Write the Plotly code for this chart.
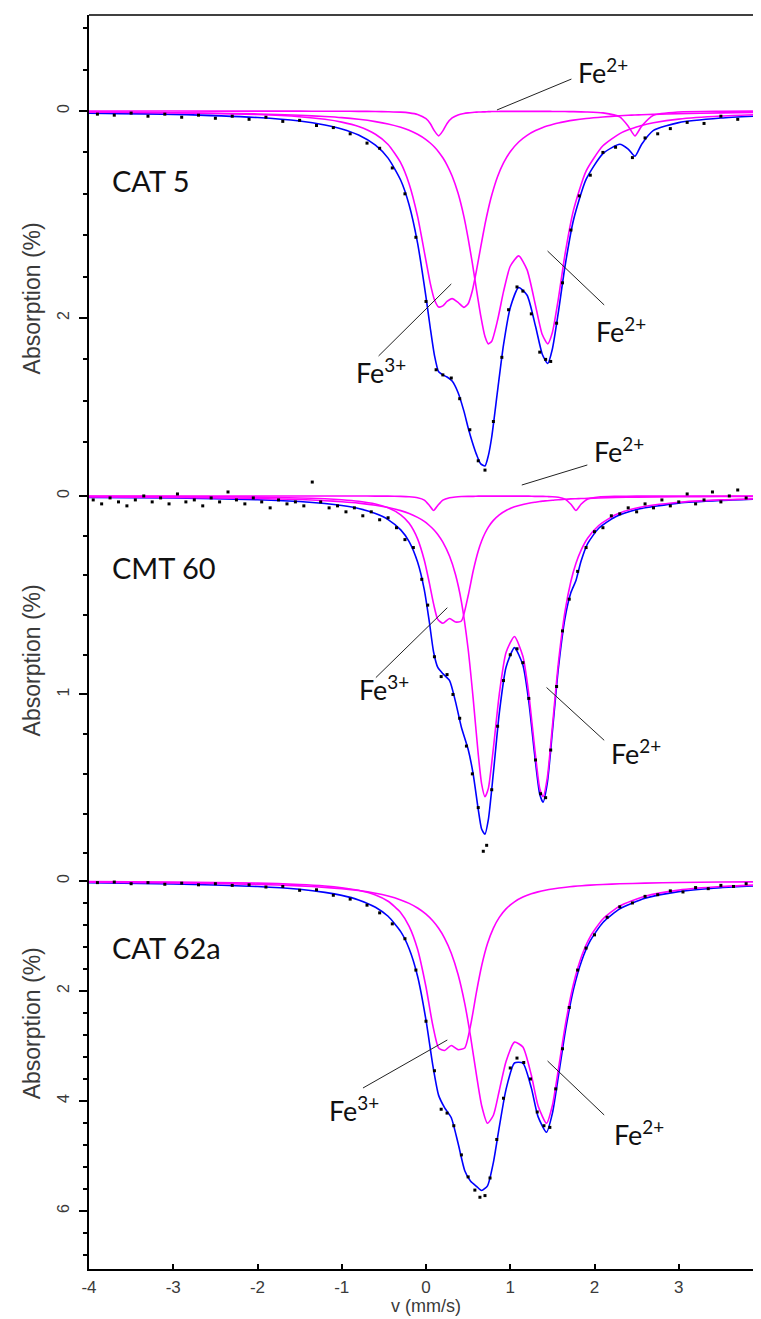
import plotly.graph_objects as go

# ---------------- CAT 5 (top panel) ----------------
V_TOP = [-4.0, -3.0, -2.0, -1.5, -1.2, -1.0, -0.8, -0.6, -0.45, -0.3,
         -0.2, -0.1, 0.0, 0.05, 0.1, 0.15, 0.2, 0.25, 0.31, 0.38,
         0.45, 0.5, 0.55, 0.6, 0.65, 0.7, 0.74, 0.78, 0.85, 0.92,
         1.0, 1.1, 1.2, 1.3, 1.38, 1.445, 1.5, 1.57, 1.65, 1.75,
         1.9, 2.1, 2.3, 2.4, 2.48, 2.56, 2.7, 3.0, 3.5, 4.0]
TOP_FE2_MAIN = [0.010, 0.016, 0.028, 0.041, 0.053, 0.064, 0.080, 0.102, 0.125, 0.157,
                0.186, 0.225, 0.276, 0.309, 0.348, 0.395, 0.452, 0.522, 0.628, 0.793,
                1.020, 1.230, 1.470, 1.730, 1.980, 2.180, 2.250, 2.225, 2.020, 1.745,
                1.500, 1.400, 1.535, 1.880, 2.160, 2.250, 2.140, 1.820, 1.385, 0.960,
                0.580, 0.336, 0.218, 0.181, 0.159, 0.139, 0.114, 0.078, 0.048, 0.032]
TOP_FE3 = [0.010, 0.016, 0.034, 0.055, 0.080, 0.107, 0.149, 0.224, 0.323, 0.501,
           0.704, 1.018, 1.448, 1.663, 1.823, 1.893, 1.883, 1.840, 1.813, 1.849,
           1.897, 1.862, 1.736, 1.538, 1.312, 1.096, 0.944, 0.814, 0.633, 0.501,
           0.393, 0.299, 0.235, 0.189, 0.161, 0.143, 0.130, 0.115, 0.102, 0.088,
           0.072, 0.057, 0.046, 0.041, 0.038, 0.036, 0.032, 0.025, 0.018, 0.013]
TOP_FE2_MINOR = [0.000, 0.000, 0.001, 0.001, 0.002, 0.002, 0.003, 0.004, 0.007, 0.011,
                 0.018, 0.033, 0.074, 0.120, 0.192, 0.240, 0.192, 0.120, 0.067, 0.038,
                 0.024, 0.018, 0.014, 0.011, 0.009, 0.008, 0.006, 0.005, 0.004, 0.003,
                 0.003, 0.003, 0.003, 0.003, 0.003, 0.003, 0.004, 0.004, 0.005, 0.006,
                 0.009, 0.018, 0.057, 0.146, 0.240, 0.146, 0.041, 0.009, 0.002, 0.001]
TOP_FIT = [0.020, 0.032, 0.063, 0.097, 0.135, 0.173, 0.232, 0.330, 0.455, 0.669,
           0.908, 1.276, 1.798, 2.092, 2.360, 2.520, 2.550, 2.570, 2.610, 2.720,
           2.900, 3.060, 3.200, 3.320, 3.410, 3.430, 3.330, 3.150, 2.700, 2.260,
           1.900, 1.705, 1.780, 2.080, 2.350, 2.440, 2.300, 1.950, 1.500, 1.055,
           0.661, 0.411, 0.321, 0.368, 0.437, 0.321, 0.187, 0.112, 0.068, 0.046]
TOP_OBS_V = [-3.9, -3.7, -3.5, -3.3, -3.1, -2.9, -2.7, -2.5, -2.3, -2.1,
             -1.9, -1.7, -1.5, -1.3, -1.1, -0.9, -0.7, -0.55, -0.4, -0.25, -0.12,
             0.0, 0.12, 0.2, 0.3, 0.4, 0.52, 0.62, 0.7, 0.8, 0.9,
             0.98, 1.08, 1.15, 1.25, 1.35, 1.42, 1.48, 1.55, 1.62, 1.72,
             1.82, 1.95, 2.1, 2.25, 2.45, 2.6, 2.75, 2.9,
             3.1, 3.3, 3.5, 3.7, 3.9]
TOP_OBS = [0.03, 0.04, 0.02, 0.05, 0.03, 0.06, 0.04, 0.07, 0.05, 0.08,
           0.06, 0.10, 0.09, 0.14, 0.16, 0.22, 0.31, 0.36, 0.55, 0.80, 1.22,
           1.84, 2.50, 2.55, 2.58, 2.78, 3.08, 3.38, 3.47, 3.00, 2.38,
           1.92, 1.70, 1.74, 1.96, 2.33, 2.40, 2.42, 2.05, 1.66, 1.15,
           0.82, 0.62, 0.40, 0.35, 0.45, 0.26, 0.22, 0.17,
           0.11, 0.12, 0.05, 0.08, 0.04]

# ---------------- CMT 60 (middle panel) ----------------
V_MID = [-4.0, -3.0, -2.0, -1.5, -1.2, -1.0, -0.8, -0.6, -0.45, -0.3,
         -0.2, -0.1, -0.02, 0.04, 0.09, 0.14, 0.2, 0.28, 0.35, 0.42,
         0.5, 0.56, 0.62, 0.66, 0.7, 0.74, 0.8, 0.87, 0.95, 1.05,
         1.15, 1.22, 1.29, 1.35, 1.39, 1.44, 1.5, 1.57, 1.65, 1.72,
         1.78, 1.84, 1.92, 2.05, 2.25, 2.5, 3.0, 3.5, 4.0]
MID_FE2_MAIN = [0.005, 0.007, 0.013, 0.018, 0.024, 0.029, 0.036, 0.047, 0.058, 0.074,
                0.088, 0.108, 0.128, 0.149, 0.169, 0.194, 0.233, 0.304, 0.396, 0.532,
                0.771, 1.021, 1.301, 1.450, 1.515, 1.473, 1.270, 0.998, 0.789, 0.708,
                0.808, 0.998, 1.270, 1.473, 1.515, 1.419, 1.162, 0.847, 0.582, 0.430,
                0.339, 0.274, 0.212, 0.149, 0.095, 0.061, 0.032, 0.020, 0.013]
MID_FE3 = [0.002, 0.003, 0.006, 0.010, 0.014, 0.019, 0.027, 0.041, 0.060, 0.095,
           0.138, 0.216, 0.324, 0.439, 0.544, 0.622, 0.641, 0.617, 0.635, 0.630,
           0.503, 0.378, 0.277, 0.227, 0.188, 0.157, 0.123, 0.095, 0.073, 0.055,
           0.043, 0.037, 0.032, 0.028, 0.026, 0.024, 0.022, 0.019, 0.017, 0.015,
           0.014, 0.013, 0.012, 0.010, 0.008, 0.006, 0.004, 0.003, 0.002]
MID_FE2_MINOR = [0.000, 0.000, 0.000, 0.000, 0.000, 0.000, 0.000, 0.001, 0.001, 0.002,
                 0.004, 0.009, 0.021, 0.048, 0.073, 0.048, 0.021, 0.009, 0.005, 0.003,
                 0.002, 0.002, 0.001, 0.001, 0.001, 0.001, 0.001, 0.001, 0.001, 0.001,
                 0.001, 0.001, 0.002, 0.002, 0.002, 0.003, 0.004, 0.007, 0.016, 0.042,
                 0.073, 0.042, 0.015, 0.005, 0.002, 0.001, 0.000, 0.000, 0.000]
MID_FIT = [0.007, 0.010, 0.019, 0.028, 0.038, 0.048, 0.063, 0.089, 0.119, 0.171,
           0.230, 0.333, 0.473, 0.636, 0.786, 0.864, 0.895, 0.930, 1.036, 1.165,
           1.276, 1.401, 1.579, 1.678, 1.704, 1.631, 1.394, 1.094, 0.863, 0.764,
           0.852, 1.036, 1.304, 1.503, 1.543, 1.446, 1.188, 0.873, 0.615, 0.487,
           0.426, 0.329, 0.239, 0.163, 0.105, 0.068, 0.036, 0.023, 0.015]
MID_OBS_V = [-3.95, -3.85, -3.75, -3.65, -3.55, -3.45, -3.35, -3.25, -3.15, -3.05,
             -2.95, -2.85, -2.75, -2.65, -2.55, -2.45, -2.35, -2.25, -2.15, -2.05,
             -1.95, -1.85, -1.75, -1.65, -1.55, -1.45, -1.35, -1.25, -1.15, -1.05,
             -0.95, -0.85, -0.75, -0.65, -0.55, -0.45, -0.35, -0.25, -0.15, -0.05,
             0.02, 0.1, 0.18, 0.25, 0.32, 0.4, 0.48, 0.55, 0.62, 0.68,
             0.72, 0.78, 0.85, 0.92, 1.0, 1.08, 1.15, 1.22, 1.3, 1.36,
             1.42, 1.48, 1.55, 1.62, 1.7, 1.8, 1.9, 2.0, 2.1, 2.2,
             2.3, 2.4, 2.5, 2.6, 2.7, 2.8, 2.9, 3.0, 3.1, 3.2,
             3.3, 3.4, 3.5, 3.6, 3.7, 3.8, 3.9]
MID_OBS = [0.02, 0.04, 0.01, 0.03, 0.05, 0.02, 0.00, 0.03, 0.01, 0.04,
           -0.01, 0.03, 0.02, 0.05, 0.01, 0.03, -0.02, 0.02, 0.04, 0.01,
           0.03, 0.06, 0.02, 0.04, 0.03, 0.05, -0.07, 0.03, 0.06, 0.05,
           0.08, 0.06, 0.10, 0.08, 0.12, 0.11, 0.16, 0.22, 0.26, 0.42,
           0.55, 0.81, 0.91, 0.90, 1.00, 1.12, 1.26, 1.40, 1.57, 1.79,
           1.76, 1.48, 1.16, 0.93, 0.80, 0.77, 0.84, 1.02, 1.33, 1.50,
           1.52, 1.28, 0.96, 0.68, 0.52, 0.38, 0.26, 0.18, 0.16, 0.10,
           0.09, 0.06, 0.08, 0.04, 0.06, 0.02, 0.05, 0.03, -0.01, 0.04,
           0.02, -0.02, 0.03, 0.00, -0.03, 0.01, -0.02]

# ---------------- CAT 62a (bottom panel) ----------------
V_BOT = [-4.0, -3.0, -2.0, -1.5, -1.2, -1.0, -0.8, -0.6, -0.45, -0.3,
         -0.2, -0.1, 0.0, 0.08, 0.15, 0.22, 0.3, 0.38, 0.46, 0.53,
         0.6, 0.66, 0.73, 0.8, 0.87, 0.95, 1.05, 1.15, 1.25, 1.33,
         1.43, 1.5, 1.58, 1.66, 1.75, 1.85, 1.95, 2.1, 2.3, 2.6,
         3.0, 3.5, 4.0]
BOT_FE2_MAIN = [0.022, 0.035, 0.062, 0.089, 0.116, 0.140, 0.174, 0.222, 0.273, 0.344,
                0.407, 0.491, 0.603, 0.724, 0.861, 1.039, 1.313, 1.697, 2.230, 2.840,
                3.539, 4.081, 4.405, 4.260, 3.809, 3.281, 2.930, 3.019, 3.528, 4.086,
                4.405, 4.081, 3.337, 2.563, 1.877, 1.355, 1.010, 0.691, 0.455, 0.277,
                0.166, 0.102, 0.069]
BOT_FE3 = [0.011, 0.019, 0.039, 0.063, 0.091, 0.122, 0.170, 0.255, 0.369, 0.577,
           0.824, 1.241, 1.928, 2.619, 3.037, 3.081, 2.991, 3.067, 3.037, 2.619,
           2.012, 1.546, 1.138, 0.856, 0.661, 0.507, 0.379, 0.293, 0.234, 0.198,
           0.164, 0.145, 0.127, 0.113, 0.099, 0.086, 0.076, 0.064, 0.052, 0.039,
           0.028, 0.020, 0.015]
BOT_FIT = [0.033, 0.054, 0.101, 0.152, 0.207, 0.262, 0.344, 0.477, 0.642, 0.921,
           1.231, 1.732, 2.531, 3.343, 3.898, 4.120, 4.304, 4.764, 5.267, 5.459,
           5.551, 5.627, 5.543, 5.116, 4.470, 3.788, 3.309, 3.312, 3.762, 4.284,
           4.569, 4.226, 3.464, 2.676, 1.976, 1.441, 1.086, 0.755, 0.507, 0.316,
           0.194, 0.122, 0.084]
BOT_OBS_V = [-3.9, -3.7, -3.5, -3.3, -3.1, -2.9, -2.7, -2.5, -2.3, -2.1,
             -1.9, -1.7, -1.5, -1.3, -1.1, -0.9, -0.7, -0.55, -0.4, -0.25, -0.12,
             0.0, 0.1, 0.18, 0.25, 0.33, 0.42, 0.5, 0.58, 0.64, 0.7,
             0.76, 0.84, 0.92, 1.0, 1.08, 1.16, 1.24, 1.32, 1.4, 1.47,
             1.54, 1.62, 1.7, 1.8, 1.9, 2.0, 2.15, 2.3, 2.45, 2.6,
             2.75, 2.9, 3.05, 3.2, 3.35, 3.5, 3.65, 3.8, 3.95]
BOT_OBS = [0.03, 0.02, 0.05, 0.03, 0.06, 0.04, 0.07, 0.05, 0.08, 0.07,
           0.11, 0.10, 0.17, 0.16, 0.26, 0.33, 0.44, 0.58, 0.78, 1.05, 1.62,
           2.55, 3.45, 4.15, 4.22, 4.45, 4.98, 5.38, 5.62, 5.75, 5.72,
           5.40, 4.70, 3.95, 3.40, 3.22, 3.30, 3.60, 4.20, 4.45, 4.48,
           3.78, 3.05, 2.30, 1.62, 1.22, 0.98, 0.66, 0.47, 0.40, 0.28,
           0.25, 0.18, 0.20, 0.12, 0.14, 0.08, 0.10, 0.05, 0.06]

# ---------------- tick labels / texts ----------------
X_TICKS = [-4, -3, -2, -1, 0, 1, 2, 3, 4]
TOP_TICKS = [0, 2]
MID_TICKS = [0, 1]
BOT_TICKS = [0, 2, 4, 6]
PANEL_NAMES = ["CAT 5", "CMT 60", "CAT 62a"]
Y_TITLE = "Absorption (%)"
X_TITLE = "v (mm/s)"
FE2 = "Fe<sup>2+</sup>"
FE3 = "Fe<sup>3+</sup>"

BLUE = "#0000ff"
MAGENTA = "#ff00ff"
SANS = "Liberation Sans, Arial, sans-serif"
TICKFONT = dict(family=SANS, size=16, color="#3a3a3a")
LABELFONT = dict(family="Lato, Noto Sans, sans-serif", size=29, color="#111111")
FEFONT = dict(family="Lato, Noto Sans, sans-serif", size=27, color="#111111")

# panel geometry (paper domains and reversed ranges)
DOMS = {"y": [0.6308, 1.0], "y2": [0.3214, 0.6308], "y3": [0.0, 0.3214]}
RNGS = {"y": [3.546, -0.928], "y2": [1.864, -0.0905], "y3": [7.0545, -0.2727]}
XR = [-4, 4]

fig = go.Figure()


def add_panel(yaxis, v, fit, comps, ov, obs):
    fig.add_trace(go.Scatter(x=v, y=fit, mode="lines", xaxis="x", yaxis=yaxis,
                             line=dict(color=BLUE, width=1.6, shape="spline", smoothing=0.6),
                             showlegend=False, hoverinfo="skip"))
    for comp in comps:
        fig.add_trace(go.Scatter(x=v, y=comp, mode="lines", xaxis="x", yaxis=yaxis,
                                 line=dict(color=MAGENTA, width=1.6, shape="spline", smoothing=0.6),
                                 showlegend=False, hoverinfo="skip"))
    fig.add_trace(go.Scatter(x=ov, y=obs, mode="markers", xaxis="x", yaxis=yaxis,
                             marker=dict(symbol="square", size=3, color="black"),
                             cliponaxis=False, showlegend=False, hoverinfo="skip"))


add_panel("y", V_TOP, TOP_FIT, [TOP_FE3, TOP_FE2_MAIN, TOP_FE2_MINOR], TOP_OBS_V, TOP_OBS)
add_panel("y2", V_MID, MID_FIT, [MID_FE3, MID_FE2_MAIN, MID_FE2_MINOR], MID_OBS_V, MID_OBS)
add_panel("y3", V_BOT, BOT_FIT, [BOT_FE3, BOT_FE2_MAIN], BOT_OBS_V, BOT_OBS)


def yaxis_cfg(key, ticks, minor_vals, lw):
    return dict(domain=DOMS[key], range=RNGS[key], anchor="x", tickmode="array",
                tickvals=ticks, ticktext=[str(t) for t in ticks], tickangle=-90,
                showline=True, linecolor="black", linewidth=lw, ticks="outside",
                ticklen=8, tickwidth=lw, tickcolor="black", tickfont=TICKFONT,
                ticklabelstandoff=4,
                minor=dict(tickmode="array", tickvals=minor_vals, ticks="outside",
                           ticklen=4, tickwidth=lw, tickcolor="black"),
                showgrid=False, zeroline=False, fixedrange=True)


def steps(a, b, s, skip):
    out = []
    k = 0
    while a + k * s <= b + 1e-9:
        val = round(a + k * s, 2)
        if all(abs(val - t) > 1e-6 for t in skip):
            out.append(val)
        k += 1
    return out


def to_paper(key, v, a):
    """map (velocity, absorption) of panel `key` to paper coordinates"""
    d0, d1 = DOMS[key]
    r0, r1 = RNGS[key]
    return (v - XR[0]) / (XR[1] - XR[0]), d0 + (a - r0) / (r1 - r0) * (d1 - d0)


# leader lines: panel, start (v, A), end (v, A)
LEADERS = [
    ("y", (0.842, -0.01), (1.726, -0.309)),
    ("y", (-0.563, 2.367), (0.300, 1.671)),
    ("y", (1.443, 1.353), (2.115, 1.874)),
    ("y2", (1.137, -0.055), (1.915, -0.156)),
    ("y2", (-0.595, 0.915), (0.253, 0.563)),
    ("y2", (1.431, 0.965), (2.115, 1.231)),
    ("y3", (-0.748, 3.764), (0.253, 2.891)),
    ("y3", (1.443, 3.273), (2.115, 4.255)),
]
shapes = [dict(type="line", xref="paper", yref="paper", x0=0, x1=1, y0=1, y1=1,
               line=dict(color="black", width=1.5))]
for key, (va, aa), (vb, ab) in LEADERS:
    x0, y0 = to_paper(key, va, aa)
    x1, y1 = to_paper(key, vb, ab)
    shapes.append(dict(type="line", xref="paper", yref="paper", x0=x0, y0=y0, x1=x1, y1=y1,
                       line=dict(color="#222222", width=1)))

fig.update_layout(
    width=761, height=1319,
    margin=dict(l=81, r=1, t=7, b=58),
    paper_bgcolor="white", plot_bgcolor="white",
    font=dict(family=SANS, color="#222222"),
    xaxis=dict(domain=[0, 1], range=XR, anchor="y3", tickmode="array",
               tickvals=X_TICKS, ticktext=[str(t) for t in X_TICKS],
               showline=True, linecolor="black", linewidth=2.2, ticks="inside",
               ticklen=5, tickwidth=2, tickcolor="black", ticklabeloverflow="allow",
               ticklabelstandoff=1,
               tickfont=dict(family=SANS, size=17, color="#3a3a3a"),
               showgrid=False, zeroline=False, fixedrange=True),
    yaxis=yaxis_cfg("y", TOP_TICKS, steps(-0.8, 3.2, 0.4, TOP_TICKS), 1.5),
    yaxis2=yaxis_cfg("y2", MID_TICKS, steps(0.2, 1.8, 0.2, MID_TICKS), 1.5),
    yaxis3=yaxis_cfg("y3", BOT_TICKS, steps(0.4, 6.8, 0.4, BOT_TICKS), 2.2),
    shapes=shapes,
)

ann = []
# y-axis titles
for ypos in [0.7743, 0.4856, 0.1962]:
    ann.append(dict(text=Y_TITLE, xref="paper", yref="paper", x=-0.084, y=ypos,
                    textangle=-90, showarrow=False, xanchor="center", yanchor="middle",
                    font=dict(family=SANS, size=23, color="#3a3a3a")))
# x-axis title
ann.append(dict(text=X_TITLE, xref="x", yref="paper", x=0, y=-0.0295, showarrow=False,
                xanchor="center", yanchor="middle",
                font=dict(family=SANS, size=18, color="#3a3a3a")))
# panel names
for name, yref, yv in zip(PANEL_NAMES, ["y", "y2", "y3"], [0.676, 0.362, 1.218]):
    ann.append(dict(text=name, xref="x", yref=yref, x=-3.753, y=yv, showarrow=False,
                    xanchor="left", yanchor="middle", font=LABELFONT))

FE_LABELS = [
    ("y", FE2, 1.785, -0.386, "left"),
    ("y", FE3, -0.536, 2.51, "center"),
    ("y", FE2, 1.997, 2.116, "left"),
    ("y", FE2, 1.974, 3.271, "left"),
    ("y2", FE3, -0.501, 0.965, "center"),
    ("y2", FE2, 2.174, 1.291, "left"),
    ("y3", FE3, -0.854, 4.15, "center"),
    ("y3", FE2, 2.209, 4.582, "left"),
]
for yref, txt, xv, yv, xa in FE_LABELS:
    ann.append(dict(text=txt, xref="x", yref=yref, x=xv, y=yv, showarrow=False,
                    xanchor=xa, yanchor="middle", font=FEFONT))

fig.update_layout(annotations=ann)
fig.write_html("out.html")
